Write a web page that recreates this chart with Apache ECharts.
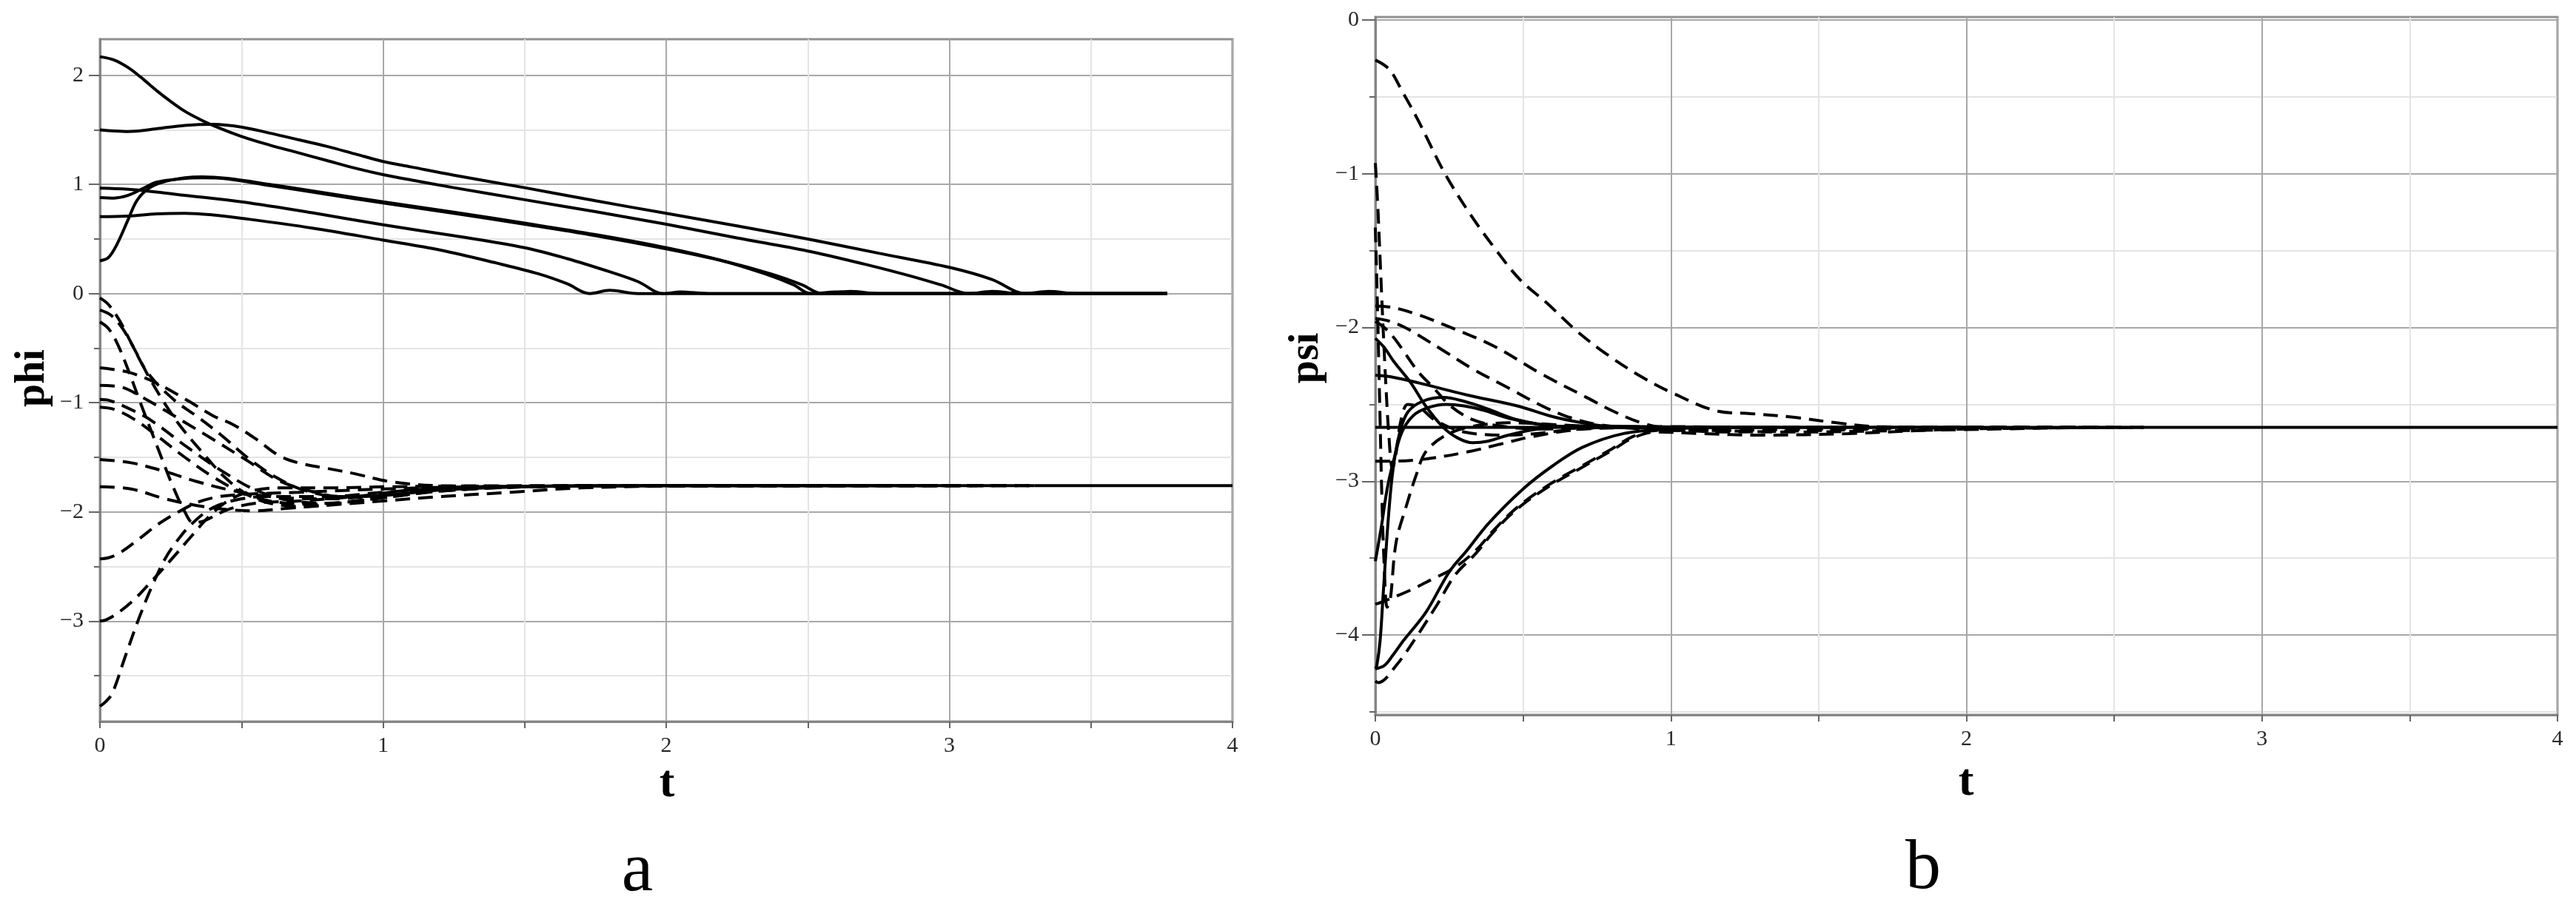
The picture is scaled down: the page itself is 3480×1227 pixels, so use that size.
<!DOCTYPE html>
<html>
<head>
<meta charset="utf-8">
<script src="https://cdn.jsdelivr.net/npm/echarts@6/dist/echarts.min.js"></script>
<style>html,body{margin:0;padding:0;background:#fff;}#c{width:3480px;height:1227px;}</style>
</head>
<body>
<div id="c"></div>
<script>
// ---------- tick values ----------
const tTicks = [0,0.5,1,1.5,2,2.5,3,3.5,4];
const tLabels = [0,1,2,3,4];
const phiTicks = [-3.5,-3,-2.5,-2,-1.5,-1,-0.5,0,0.5,1,1.5,2];
const phiLabels = [-3,-2,-1,0,1,2];
const psiTicks = [-4.5,-4,-3.5,-3,-2.5,-2,-1.5,-1,-0.5,0];
const psiLabels = [-4,-3,-2,-1,0];

// ---------- panel a : phi, solid curves ----------
const phiS1 = [[0,2.17],[0.05,2.14],[0.1,2.07],[0.15,1.97],[0.2,1.86],[0.25,1.76],[0.3,1.67],[0.35,1.6],[0.4,1.54],[0.5,1.44],[0.6,1.36],[0.7,1.29],[0.8,1.22],[0.9,1.15],[1.0,1.09],[1.1,1.04],[1.25,0.97],[1.5,0.86],[1.75,0.75],[2.0,0.635],[2.25,0.51],[2.5,0.39],[2.7,0.27],[2.85,0.17],[2.97,0.08],[3.07,0],[3.15,0.02],[3.25,0],[3.77,0]];
const phiS2 = [[0,1.5],[0.05,1.49],[0.1,1.485],[0.2,1.51],[0.3,1.54],[0.4,1.55],[0.5,1.525],[0.6,1.47],[0.7,1.41],[0.8,1.35],[0.9,1.28],[1.0,1.21],[1.1,1.16],[1.25,1.085],[1.5,0.97],[1.75,0.85],[2.0,0.735],[2.25,0.62],[2.5,0.5],[2.75,0.37],[3.0,0.24],[3.15,0.13],[3.27,0],[3.35,0.02],[3.45,0],[3.77,0]];
const phiS3 = [[0,0.3],[0.03,0.33],[0.06,0.45],[0.1,0.68],[0.13,0.85],[0.17,0.96],[0.22,1.02],[0.3,1.06],[0.36,1.07],[0.45,1.055],[0.6,1.0],[0.8,0.92],[1.0,0.84],[1.25,0.745],[1.5,0.645],[1.75,0.54],[2.0,0.42],[2.2,0.3],[2.35,0.18],[2.45,0.08],[2.51,0],[2.6,0.015],[2.7,0],[3.77,0]];
const phiS4 = [[0,0.88],[0.05,0.875],[0.1,0.9],[0.15,0.96],[0.2,1.02],[0.28,1.05],[0.36,1.06],[0.45,1.05],[0.6,0.99],[0.8,0.91],[1.0,0.83],[1.25,0.735],[1.5,0.635],[1.75,0.53],[2.0,0.41],[2.2,0.3],[2.37,0.18],[2.48,0.08],[2.55,0],[2.65,0.02],[2.75,0],[3.77,0]];
const phiS5 = [[0,0.965],[0.1,0.955],[0.2,0.93],[0.3,0.9],[0.5,0.84],[0.75,0.74],[1.0,0.63],[1.25,0.53],[1.5,0.42],[1.65,0.32],[1.8,0.2],[1.9,0.11],[1.99,0],[2.05,0.015],[2.15,0],[3.77,0]];
const phiS6 = [[0,0.705],[0.1,0.71],[0.2,0.73],[0.3,0.735],[0.4,0.72],[0.5,0.69],[0.75,0.6],[1.0,0.49],[1.2,0.4],[1.4,0.28],[1.55,0.18],[1.65,0.09],[1.73,0],[1.8,0.03],[1.9,0],[3.77,0]];

// ---------- panel a : phi, dashed curves ----------
const phiD1 = [[0,-0.04],[0.03,-0.1],[0.07,-0.25],[0.11,-0.45],[0.17,-0.73],[0.26,-0.97],[0.34,-1.12],[0.43,-1.3],[0.52,-1.5],[0.62,-1.68],[0.72,-1.8],[0.85,-1.86],[1.0,-1.85],[1.2,-1.8],[1.5,-1.77],[2.0,-1.76],[3.3,-1.76]];
const phiD2 = [[0,-0.15],[0.04,-0.2],[0.08,-0.32],[0.12,-0.5],[0.17,-0.75],[0.22,-0.97],[0.28,-1.2],[0.36,-1.45],[0.44,-1.68],[0.52,-1.84],[0.6,-1.92],[0.72,-1.95],[0.85,-1.92],[1.0,-1.87],[1.2,-1.81],[1.5,-1.77],[2.0,-1.76],[3.0,-1.76]];
const phiD3 = [[0,-0.26],[0.03,-0.32],[0.06,-0.45],[0.1,-0.7],[0.14,-0.98],[0.18,-1.25],[0.22,-1.52],[0.26,-1.78],[0.3,-2.0],[0.33,-2.1],[0.37,-2.08],[0.45,-1.98],[0.55,-1.92],[0.7,-1.9],[0.9,-1.86],[1.1,-1.8],[1.4,-1.77],[2.0,-1.76],[2.8,-1.76]];
const phiD4 = [[0,-0.68],[0.1,-0.72],[0.2,-0.82],[0.31,-0.98],[0.4,-1.12],[0.47,-1.2],[0.55,-1.33],[0.63,-1.48],[0.7,-1.55],[0.8,-1.6],[0.9,-1.65],[1.02,-1.72],[1.2,-1.76],[1.5,-1.765],[2.2,-1.76],[3.3,-1.76]];
const phiD5 = [[0,-0.84],[0.08,-0.86],[0.15,-0.95],[0.23,-1.07],[0.3,-1.18],[0.39,-1.32],[0.52,-1.53],[0.63,-1.71],[0.73,-1.8],[0.85,-1.86],[1.0,-1.85],[1.2,-1.8],[1.5,-1.77],[2.0,-1.76],[2.5,-1.76]];
const phiD6 = [[0,-0.97],[0.035,-0.98],[0.1,-1.05],[0.18,-1.16],[0.31,-1.41],[0.44,-1.64],[0.55,-1.8],[0.66,-1.89],[0.8,-1.92],[1.0,-1.87],[1.2,-1.81],[1.5,-1.77],[2.0,-1.76],[3.1,-1.76]];
const phiD7 = [[0,-1.04],[0.05,-1.06],[0.12,-1.15],[0.2,-1.3],[0.3,-1.5],[0.4,-1.68],[0.5,-1.82],[0.6,-1.9],[0.75,-1.93],[0.9,-1.9],[1.1,-1.83],[1.4,-1.77],[2.0,-1.76],[2.6,-1.76]];
const phiD8 = [[0,-1.52],[0.11,-1.55],[0.23,-1.63],[0.34,-1.72],[0.46,-1.8],[0.6,-1.86],[0.8,-1.88],[1.0,-1.85],[1.2,-1.8],[1.5,-1.77],[2.0,-1.76],[3.2,-1.76]];
const phiD9 = [[0,-1.77],[0.11,-1.79],[0.23,-1.88],[0.34,-1.94],[0.46,-1.98],[0.55,-1.99],[0.65,-1.97],[0.8,-1.94],[1.0,-1.9],[1.2,-1.86],[1.45,-1.82],[1.7,-1.78],[2.0,-1.765],[3.3,-1.76]];
const phiD10 = [[0,-2.43],[0.03,-2.42],[0.067,-2.38],[0.137,-2.25],[0.207,-2.11],[0.277,-2.0],[0.347,-1.91],[0.42,-1.86],[0.5,-1.84],[0.7,-1.82],[1.0,-1.79],[1.3,-1.77],[2.0,-1.76],[2.9,-1.76]];
const phiD11 = [[0,-3.0],[0.02,-2.99],[0.055,-2.94],[0.114,-2.82],[0.184,-2.63],[0.254,-2.43],[0.324,-2.22],[0.394,-2.02],[0.464,-1.88],[0.55,-1.8],[0.65,-1.78],[0.8,-1.78],[1.0,-1.77],[1.5,-1.76],[2.7,-1.76]];
const phiD12 = [[0,-3.78],[0.02,-3.74],[0.044,-3.66],[0.09,-3.32],[0.137,-2.98],[0.184,-2.68],[0.23,-2.43],[0.277,-2.25],[0.324,-2.11],[0.4,-1.96],[0.5,-1.88],[0.6,-1.86],[0.8,-1.86],[1.0,-1.82],[1.3,-1.77],[2.0,-1.76],[3.0,-1.76]];
const phiTail = [[3.3,-1.76],[4.0,-1.76]];

// ---------- panel b : psi ----------
const psiR1 = [[0,-0.26],[0.047,-0.32],[0.09,-0.46],[0.147,-0.66],[0.233,-0.99],[0.32,-1.26],[0.41,-1.5],[0.49,-1.69],[0.58,-1.84],[0.68,-2.02],[0.78,-2.17],[0.9,-2.32],[1.01,-2.43],[1.16,-2.545],[1.27,-2.56],[1.42,-2.585],[1.56,-2.62],[1.7,-2.645],[2.0,-2.65],[2.6,-2.65]];
const psiR2 = [[0,-0.93],[0.008,-1.2],[0.016,-1.55],[0.025,-1.95],[0.035,-2.35],[0.045,-2.68],[0.058,-2.92],[0.07,-2.82],[0.087,-2.6],[0.11,-2.5],[0.15,-2.52],[0.2,-2.6],[0.3,-2.68],[0.45,-2.7],[0.7,-2.66],[1.0,-2.65],[2.2,-2.65]];
const psiR3 = [[0,-1.35],[0.005,-1.7],[0.01,-2.1],[0.016,-2.6],[0.022,-3.1],[0.03,-3.55],[0.04,-3.82],[0.05,-3.78],[0.07,-3.4],[0.105,-3.16],[0.14,-2.95],[0.17,-2.81],[0.23,-2.71],[0.31,-2.65],[0.45,-2.62],[0.7,-2.64],[1.0,-2.65],[2.0,-2.65]];
const psiR4 = [[0,-1.86],[0.06,-1.87],[0.15,-1.92],[0.23,-1.98],[0.4,-2.12],[0.56,-2.3],[0.72,-2.46],[0.8,-2.54],[0.9,-2.62],[1.0,-2.66],[1.2,-2.68],[1.5,-2.67],[2.0,-2.65],[2.5,-2.65]];
const psiR5 = [[0,-1.94],[0.05,-1.96],[0.1,-2.0],[0.146,-2.05],[0.23,-2.15],[0.33,-2.27],[0.447,-2.39],[0.564,-2.51],[0.65,-2.58],[0.75,-2.63],[0.9,-2.66],[1.1,-2.67],[1.5,-2.66],[2.0,-2.65],[2.4,-2.65]];
const psiR6 = [[0,-2.07],[0.03,-2.13],[0.062,-2.22],[0.12,-2.36],[0.17,-2.51],[0.23,-2.65],[0.28,-2.72],[0.33,-2.75],[0.38,-2.74],[0.45,-2.7],[0.55,-2.66],[0.7,-2.64],[0.9,-2.645],[1.2,-2.65]];
const psiR7 = [[0,-2.31],[0.05,-2.32],[0.146,-2.36],[0.313,-2.44],[0.48,-2.51],[0.6,-2.58],[0.7,-2.62],[0.8,-2.645],[1.0,-2.65],[1.3,-2.65]];
const psiR8 = [[0,-2.65],[4.0,-2.65]];
const psiR9 = [[0,-2.87],[0.05,-2.87],[0.17,-2.855],[0.31,-2.81],[0.42,-2.76],[0.53,-2.71],[0.7,-2.66],[0.85,-2.645],[1.0,-2.645],[1.3,-2.65],[2.0,-2.65]];
const psiR10 = [[0,-3.52],[0.02,-3.3],[0.04,-3.05],[0.06,-2.88],[0.09,-2.68],[0.13,-2.57],[0.18,-2.52],[0.24,-2.5],[0.3,-2.51],[0.37,-2.54],[0.45,-2.59],[0.6,-2.64],[0.8,-2.65],[1.1,-2.65]];
const psiR11 = [[0,-4.22],[0.005,-4.2],[0.016,-4.04],[0.027,-3.72],[0.044,-3.24],[0.06,-2.92],[0.083,-2.68],[0.11,-2.55],[0.16,-2.48],[0.23,-2.455],[0.3,-2.48],[0.38,-2.53],[0.48,-2.6],[0.6,-2.64],[0.8,-2.65],[1.1,-2.65]];
const psiR12 = [[0,-4.22],[0.03,-4.2],[0.06,-4.13],[0.094,-4.04],[0.172,-3.85],[0.25,-3.59],[0.31,-3.45],[0.385,-3.27],[0.5,-3.05],[0.6,-2.9],[0.7,-2.78],[0.84,-2.69],[1.0,-2.66],[1.2,-2.65]];
const psiR13 = [[0,-4.3],[0.01,-4.31],[0.07,-4.2],[0.14,-4.01],[0.21,-3.8],[0.27,-3.61],[0.34,-3.47],[0.4,-3.33],[0.48,-3.18],[0.59,-3.03],[0.69,-2.92],[0.8,-2.8],[0.87,-2.72],[0.95,-2.68],[1.1,-2.69],[1.3,-2.7],[1.6,-2.69],[2.0,-2.66],[2.6,-2.65]];
const psiR14 = [[0,-3.8],[0.03,-3.78],[0.117,-3.71],[0.19,-3.64],[0.27,-3.56],[0.34,-3.45],[0.4,-3.32],[0.48,-3.17],[0.59,-3.02],[0.69,-2.91],[0.8,-2.79],[0.87,-2.71],[0.95,-2.67],[1.1,-2.67],[1.4,-2.68],[1.8,-2.67],[2.4,-2.65]];
const psiR15 = [[0,-1.96],[0.03,-2.0],[0.06,-2.06],[0.087,-2.13],[0.146,-2.29],[0.196,-2.39],[0.254,-2.51],[0.33,-2.6],[0.42,-2.64],[0.55,-2.66],[0.8,-2.65],[1.2,-2.65]];

const phiSolid = [phiS1, phiS2, phiS3, phiS4, phiS5, phiS6, phiTail];
const phiDashed = [phiD1, phiD2, phiD3, phiD4, phiD5, phiD6, phiD7, phiD8, phiD9, phiD10, phiD11, phiD12];
const psiSolid = [psiR6, psiR7, psiR8, psiR10, psiR11, psiR12];
const psiDashed = [psiR1, psiR2, psiR3, psiR4, psiR5, psiR9, psiR13, psiR14, psiR15];

// ---------- chart ----------
const chart = echarts.init(document.getElementById('c'), null, {renderer: 'canvas'});
const FONT = '"Liberation Serif", "DejaVu Serif", serif';
const MAJOR = '#a8a8a8', MINOR = '#e4e4e4', AXIS = '#858585';
const fmt = v => (v < 0 ? '\u2212' : '') + Math.abs(v);

function xAx(gi) {
  return {
    type: 'value', gridIndex: gi, min: 0, max: 4, position: 'bottom',
    axisLine: {show: true, onZero: false, lineStyle: {color: AXIS, width: 3}},
    axisTick: {show: true, customValues: tTicks, length: 9, lineStyle: {color: '#666', width: 2}},
    axisLabel: {show: true, customValues: tLabels, formatter: fmt, fontFamily: FONT, fontSize: 30, color: '#2a2a2a', margin: 18},
    splitLine: {show: true, lineStyle: {color: [MAJOR, MINOR], width: 2}}
  };
}
function yAx(gi, mn, mx, ticks, labels, colors) {
  return {
    type: 'value', gridIndex: gi, min: mn, max: mx, position: 'left',
    axisLine: {show: true, onZero: false, lineStyle: {color: AXIS, width: 3}},
    axisTick: {show: true, customValues: ticks, length: 8, lineStyle: {color: '#666', width: 2}},
    axisLabel: {show: true, customValues: labels, formatter: fmt, fontFamily: FONT, fontSize: 30, color: '#2a2a2a', margin: 22},
    splitLine: {show: true, lineStyle: {color: colors, width: 2}}
  };
}
function yMajor(gi, mn, mx, labels, len) {
  return {
    type: 'value', gridIndex: gi, min: mn, max: mx, position: 'left', offset: 0,
    axisLine: {show: false},
    axisTick: {show: true, customValues: labels, length: len, lineStyle: {color: '#666', width: 2}},
    axisLabel: {show: false},
    splitLine: {show: false}
  };
}
function mk(data, dashed, idx) {
  return {
    type: 'line', xAxisIndex: idx, yAxisIndex: idx === 0 ? 0 : 2, data: data,
    showSymbol: false, symbol: 'none', smooth: 0.35,
    lineStyle: {color: '#000', width: 4, type: dashed ? [20, 11] : 'solid'},
    silent: true, animation: false, z: 3
  };
}

const series = [];
phiSolid.forEach(d => series.push(mk(d, false, 0)));
phiDashed.forEach(d => series.push(mk(d, true, 0)));
psiSolid.forEach(d => series.push(mk(d, false, 1)));
psiDashed.forEach(d => series.push(mk(d, true, 1)));

const txt = (s, x, y, font, rot) => ({
  type: 'text', x: x, y: y, rotation: rot || 0, silent: true,
  style: {text: s, font: font, fill: '#000', textAlign: 'center', textVerticalAlign: 'middle'}
});

chart.setOption({
  animation: false,
  backgroundColor: '#fff',
  grid: [
    {left: 135, top: 53, width: 1530, height: 922, show: true, borderColor: '#8f8f8f', borderWidth: 3, backgroundColor: 'transparent'},
    {left: 1858, top: 23, width: 1597, height: 943, show: true, borderColor: '#8f8f8f', borderWidth: 3, backgroundColor: 'transparent'}
  ],
  xAxis: [xAx(0), xAx(1)],
  yAxis: [
    yAx(0, -3.92, 2.33, phiTicks, phiLabels, [MINOR, MAJOR]),
    yMajor(0, -3.92, 2.33, phiLabels, 15),
    yAx(1, -4.52, 0.02, psiTicks, psiLabels, [MINOR, MAJOR]),
    yMajor(1, -4.52, 0.02, psiLabels, 18)
  ],
  series: series,
  graphic: [
    txt('phi', 45, 511, 'bold 56px ' + FONT, Math.PI / 2),
    txt('psi', 1766, 484, 'bold 56px ' + FONT, Math.PI / 2),
    txt('t', 901, 1060, 'bold 62px ' + FONT),
    txt('t', 2656, 1058, 'bold 62px ' + FONT),
    txt('a', 861, 1178, '96px ' + FONT),
    txt('b', 2598, 1175, '96px ' + FONT)
  ]
});
</script>
</body>
</html>
